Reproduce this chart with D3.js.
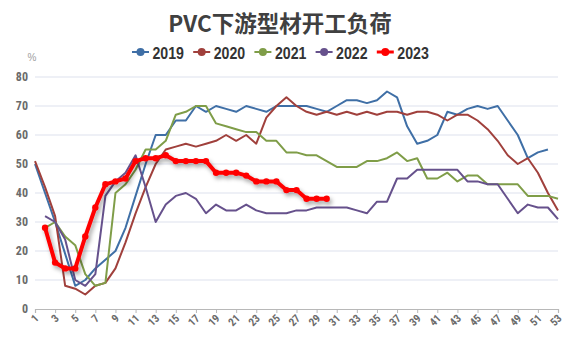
<!DOCTYPE html>
<html><head><meta charset="utf-8">
<script src="https://cdn.jsdelivr.net/npm/d3@7"></script>
<style>
html,body{margin:0;padding:0;background:#fff;}
svg{display:block;}
</style></head>
<body>
<svg id="chart" width="573" height="342"></svg>
<script>
const title = "PVC下游型材开工负荷";
const unitLabel = "%";
const weeks = d3.range(1, 54);
const yTicks = [0, 10, 20, 30, 40, 50, 60, 70, 80];
const xTickLabels = weeks.filter(w => w % 2 === 1);
const seriesNames = ["2019", "2020", "2021", "2022", "2023"];
const seriesColors = ["#3f6fa6", "#a0403c", "#7f9d48", "#66518c", "#ff0000"];

const v2019 = [50,40,30,19,8,10,14,17,20,28,39,50,60,60,65,65,70,68,70,69,68,70,69,68,70,70,70,70,69,68,70,72,72,71,72,75,73,63,57,58,60,68,67,69,70,69,70,65,60,52,54,55,null];
const v2020 = [51,42,32,8,7,5,8,9,14,23,33,42,50,55,56,57,56,57,58,60,58,60,57,66,70,73,70,68,67,68,67,68,67,68,67,68,68,67,68,68,67,65,67,67,65,62,58,53,50,52,47,40,34];
const v2021 = [null,28,30,25,22,12,8,9,40,43,48,55,55,58,67,68,70,70,64,63,62,61,61,58,58,54,54,53,53,51,49,49,49,51,51,52,54,51,52,45,45,47,44,46,46,43,43,43,43,39,39,39,38];
const v2022 = [null,32,30,24,10,8,12,39,44,47,53,42,30,36,39,40,38,33,36,34,34,36,34,33,33,33,34,34,35,35,35,35,34,33,37,37,45,45,48,48,48,48,48,44,44,43,43,38,33,36,35,35,31];
const v2023 = [null,28,16,14,14,25,35,43,44,45,51,52,52,53,51,51,51,51,47,47,47,46,44,44,44,41,41,38,38,38];
const seriesValues = [v2019, v2020, v2021, v2022, v2023];

const svg = d3.select("#chart");
const defs = svg.append("defs");
const f = defs.append("filter").attr("id","shadow").attr("x","-10%").attr("y","-10%").attr("width","130%").attr("height","140%");
f.append("feDropShadow").attr("dx",2).attr("dy",3).attr("stdDeviation",2).attr("flood-color","#000").attr("flood-opacity",0.35);

const x = d3.scaleLinear().domain([1, 53]).range([35, 558]);
const y = d3.scaleLinear().domain([0, 80]).range([309, 77]);

// title
svg.append("text").attr("x", 280).attr("y", 32).attr("text-anchor","middle")
  .attr("font-family","'Noto Sans CJK SC', sans-serif").attr("font-weight","bold")
  .attr("font-size", 22.5).attr("fill","#404040").text(title);

// unit
svg.append("text").attr("x", 32).attr("y", 61).attr("text-anchor","middle")
  .attr("font-family","'Liberation Sans', sans-serif").attr("font-size", 10).attr("fill","#a0a0a0").text(unitLabel);

// gridlines
svg.append("g").selectAll("line").data(yTicks.filter(t => t > 0)).join("line")
  .attr("x1", x(1)).attr("x2", x(53)).attr("y1", d => y(d)).attr("y2", d => y(d))
  .attr("stroke","#dde2ee").attr("stroke-width",1.2);

// y axis
const yAxis = svg.append("g").attr("transform", `translate(${x(1)},0)`)
  .call(d3.axisLeft(y).tickValues(yTicks).tickSize(0).tickPadding(7));
yAxis.select(".domain").remove();
yAxis.selectAll("text").attr("font-family","'Liberation Sans Narrow','Roboto Condensed','Roboto',sans-serif")
  .attr("font-size", 12).attr("font-weight","bold").attr("fill","#6b6b6b");

// x axis
const xAxis = svg.append("g").attr("transform", `translate(0,${y(0)})`)
  .call(d3.axisBottom(x).tickValues(xTickLabels).tickSize(4).tickFormat(d3.format("d")));
xAxis.select(".domain").attr("stroke","#b8b8b8").attr("stroke-width",1.2);
xAxis.selectAll(".tick line").attr("stroke","#b8b8b8");
xAxis.selectAll("text").attr("font-family","'Liberation Sans Narrow','Roboto Condensed','Roboto',sans-serif")
  .attr("font-size", 11).attr("font-weight","bold").attr("fill","#6b6b6b")
  .attr("text-anchor","end").attr("dy", null).attr("y", null)
  .attr("transform","translate(4,10) rotate(-45)");

const line = d3.line().defined(d => d.v !== null).x(d => x(d.w)).y(d => y(d.v));

// series (2023 last, on top)
seriesValues.forEach((vals, i) => {
  const pts = vals.map((v, j) => ({w: weeks[j], v: v}));
  const isMain = i === 4;
  const g = svg.append("g");
  if (isMain) g.attr("filter","url(#shadow)");
  g.append("path").datum(pts).attr("d", line).attr("fill","none")
    .attr("stroke", seriesColors[i]).attr("stroke-width", isMain ? 4 : 2)
    .attr("stroke-linejoin","round");
  if (isMain) {
    g.selectAll("circle").data(pts.filter(d => d.v !== null)).join("circle")
      .attr("cx", d => x(d.w)).attr("cy", d => y(d.v)).attr("r", 3.2)
      .attr("fill", seriesColors[i]);
  }
});

// legend
const leg = svg.append("g");
seriesNames.forEach((name, i) => {
  const x0 = 132 + i * 61.2;
  const isMain = i === 4;
  const gi = leg.append("g");
  gi.append("line").attr("x1", x0).attr("x2", x0 + 17).attr("y1", 52).attr("y2", 52)
    .attr("stroke", seriesColors[i]).attr("stroke-width", isMain ? 3 : 2);
  gi.append("circle").attr("cx", x0 + 8.5).attr("cy", 52).attr("r", 4).attr("fill", seriesColors[i]);
  gi.append("text").attr("x", x0 + 20.5).attr("y", 59)
    .attr("font-family","'Liberation Sans','Roboto',sans-serif").attr("font-weight","bold")
    .attr("font-size", 17).attr("fill","#333")
    .attr("textLength", 31.5).attr("lengthAdjust","spacingAndGlyphs").text(name);
});
</script>
</body></html>
